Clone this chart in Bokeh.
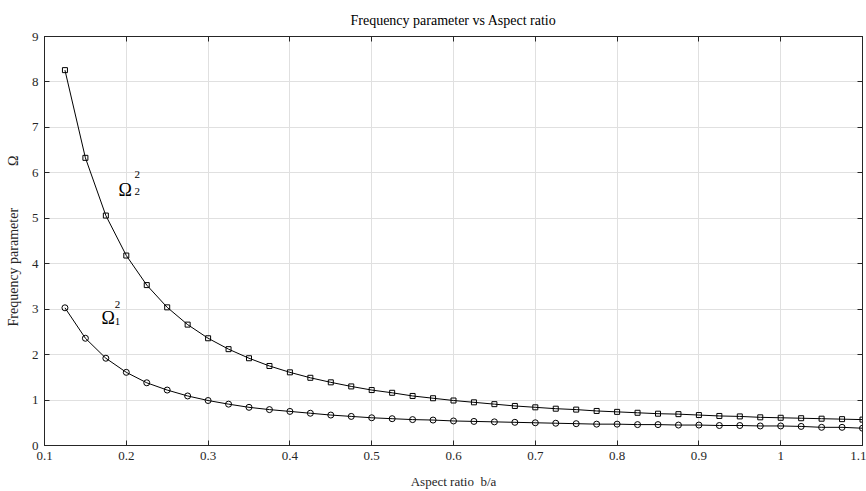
from bokeh.plotting import figure
from bokeh.models import LinearAxis, FixedTicker, Label, ColumnDataSource
from bokeh.embed import file_html
from bokeh.resources import INLINE

# ---- data ----
aspect_ratio = [0.125, 0.15, 0.175, 0.2, 0.225, 0.25, 0.275, 0.3, 0.325, 0.35,
                0.375, 0.4, 0.425, 0.45, 0.475, 0.5, 0.525, 0.55, 0.575, 0.6,
                0.625, 0.65, 0.675, 0.7, 0.725, 0.75, 0.775, 0.8, 0.825, 0.85,
                0.875, 0.9, 0.925, 0.95, 0.975, 1.0, 1.025, 1.05, 1.075, 1.1]
omega2_sq = [8.26, 6.33, 5.06, 4.18, 3.53, 3.04, 2.66, 2.36, 2.12, 1.92,
             1.75, 1.61, 1.49, 1.39, 1.30, 1.22, 1.16, 1.09, 1.04, 0.99,
             0.95, 0.91, 0.87, 0.84, 0.81, 0.79, 0.76, 0.74, 0.72, 0.70,
             0.69, 0.67, 0.65, 0.64, 0.62, 0.61, 0.60, 0.59, 0.58, 0.57]
omega1_sq = [3.03, 2.36, 1.92, 1.61, 1.38, 1.22, 1.09, 0.99, 0.91, 0.84,
             0.79, 0.75, 0.71, 0.67, 0.64, 0.61, 0.59, 0.57, 0.56, 0.54,
             0.53, 0.52, 0.51, 0.50, 0.49, 0.48, 0.47, 0.47, 0.46, 0.46,
             0.45, 0.45, 0.44, 0.44, 0.43, 0.43, 0.42, 0.40, 0.40, 0.38]

x_ticks = [0.1, 0.2, 0.3, 0.4, 0.5, 0.6, 0.7, 0.8, 0.9, 1.0, 1.1]
x_tick_labels = ["0.1", "0.2", "0.3", "0.4", "0.5", "0.6", "0.7", "0.8", "0.9", "1", "1.1"]
y_ticks = [0, 1, 2, 3, 4, 5, 6, 7, 8, 9]

title_text = "Frequency parameter vs Aspect ratio"
x_label = "Aspect ratio\u00a0 b/a"
y_label = "Frequency parameter" + "\u2003" * 3 + "\u03A9"

# annotation positions (data coords): main glyph, superscript, subscript
ann2 = dict(x=0.1905, y=5.63, sx=0.2100, sup_y=5.96, sub_y=5.59, sub="2")
ann1 = dict(x=0.1697, y=2.80, sx=0.1858, sup_y=3.11, sub_y=2.73, sub="1")

FONT = "Liberation Serif"
AX = "#262626"

p = figure(width=866, height=491, x_range=(0.1, 1.1), y_range=(0, 9),
           output_backend="svg", toolbar_location=None,
           min_border_left=44, min_border_right=4, min_border_top=36, min_border_bottom=10)
p.background_fill_color = "white"
p.border_fill_color = "white"
p.outline_line_color = AX
p.outline_line_width = 1

p.title.text = title_text
p.title.align = "center"
p.title.text_font = FONT
p.title.text_font_style = "normal"
p.title.text_font_size = "14px"
p.title.text_color = "black"
p.title.standoff = 17

for ax in (p.xaxis[0], p.yaxis[0]):
    ax.major_label_text_font = FONT
    ax.major_label_text_font_size = "13px"
    ax.major_label_text_color = AX
    ax.axis_line_color = AX
    ax.major_tick_line_color = AX
    ax.major_tick_in = 5
    ax.major_tick_out = 0
    ax.minor_tick_line_color = None
    ax.major_label_standoff = 6
    ax.axis_label_text_font = FONT
    ax.axis_label_text_font_size = "13px"
    ax.axis_label_text_font_style = "normal"
    ax.axis_label_text_color = AX

p.xaxis[0].ticker = FixedTicker(ticks=x_ticks)
p.xaxis[0].major_label_overrides = dict(zip(x_ticks, x_tick_labels))
p.yaxis[0].ticker = FixedTicker(ticks=y_ticks)
p.xaxis[0].axis_label = x_label
p.xaxis[0].axis_label_standoff = 11
p.yaxis[0].axis_label = y_label
p.yaxis[0].axis_label_text_font_size = "14px"
p.yaxis[0].axis_label_standoff = 8

# top and right axes (ticks only)
top = LinearAxis(ticker=FixedTicker(ticks=x_ticks))
right = LinearAxis(ticker=FixedTicker(ticks=y_ticks))
for ax in (top, right):
    ax.major_label_text_font_size = "0px"
    ax.major_label_text_color = None
    ax.axis_line_color = AX
    ax.major_tick_line_color = AX
    ax.major_tick_in = 5
    ax.major_tick_out = 0
    ax.minor_tick_line_color = None
    ax.major_label_standoff = 0
p.add_layout(top, "above")
p.add_layout(right, "right")

p.xgrid.ticker = FixedTicker(ticks=x_ticks)
p.ygrid.ticker = FixedTicker(ticks=y_ticks)
p.grid.grid_line_color = "#e0e0e0"
p.grid.grid_line_width = 1

src = ColumnDataSource(dict(x=aspect_ratio, w2=omega2_sq, w1=omega1_sq))
p.line("x", "w2", source=src, line_color="black", line_width=1)
p.scatter("x", "w2", source=src, marker="square", size=5, line_color="black",
          fill_color=None, line_width=1)
p.line("x", "w1", source=src, line_color="black", line_width=1)
p.scatter("x", "w1", source=src, marker="circle", size=6, line_color="black",
          fill_color=None, line_width=1)

# Omega annotations
for a in (ann2, ann1):
    p.add_layout(Label(x=a["x"], y=a["y"], text="\u03A9", text_font=FONT,
                       text_font_size="18px", text_color="black",
                       text_baseline="alphabetic", text_align="left"))
    p.add_layout(Label(x=a["sx"], y=a["sup_y"], text="2", text_font=FONT,
                       text_font_size="11px", text_color="black",
                       text_baseline="alphabetic", text_align="left"))
    p.add_layout(Label(x=a["sx"], y=a["sub_y"], text=a["sub"], text_font=FONT,
                       text_font_size="11px", text_color="black",
                       text_baseline="alphabetic", text_align="left"))

open("out.html", "w").write(file_html(p, INLINE))
